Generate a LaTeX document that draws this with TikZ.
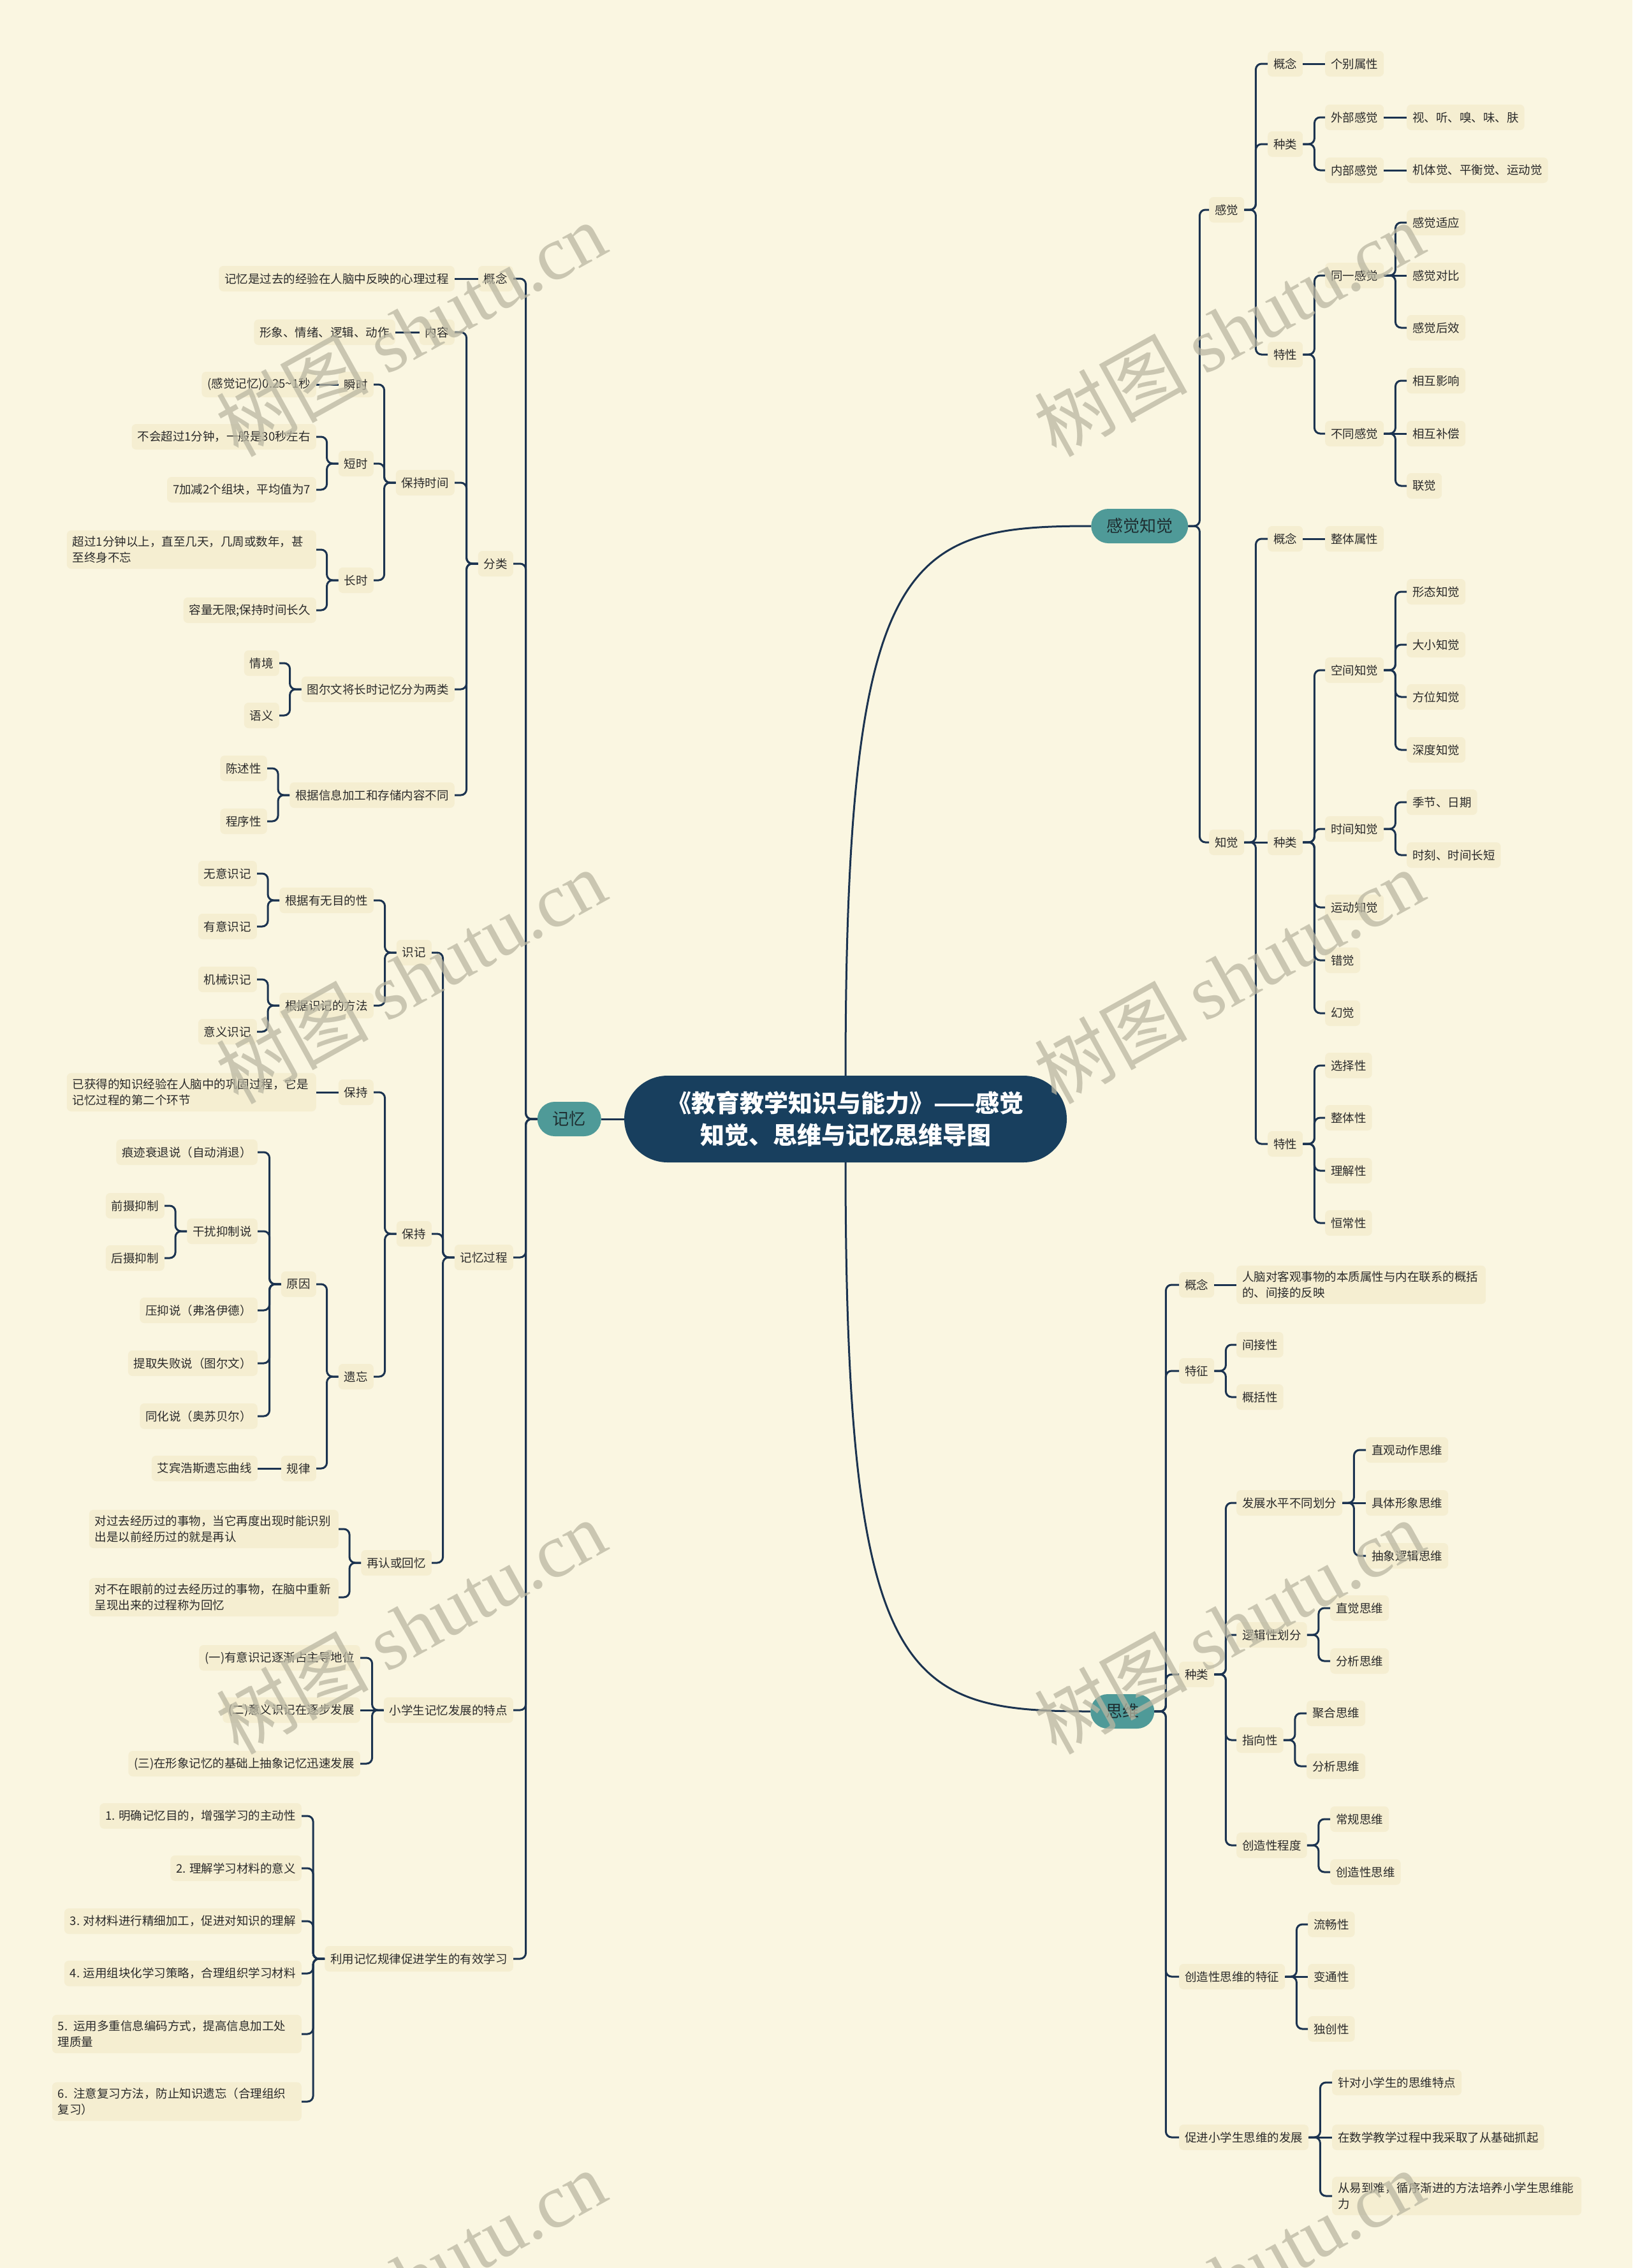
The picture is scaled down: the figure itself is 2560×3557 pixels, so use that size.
\documentclass[tikz,border=0pt]{standalone}
\usepackage{fontspec}
\newfontfamily\cjk{Noto Sans CJK SC}
\newfontfamily\wmserif{Liberation Serif}
\definecolor{bg}{HTML}{FAF6E1}
\definecolor{ndfill}{HTML}{F5EED1}
\definecolor{linec}{HTML}{1B3350}
\definecolor{rootc}{HTML}{183F5E}
\definecolor{tealc}{HTML}{4F9A98}
\definecolor{txt}{HTML}{2A2A2A}
\definecolor{pilltxt}{HTML}{1E2D30}
\definecolor{wm}{HTML}{BAB7A2}
\newcommand\edgeR[2]{\draw[conn] (#1.east) -- ++(18,0) |- (#2.west);}
\newcommand\edgeL[2]{\draw[conn] (#1.west) -- ++(-18,0) |- (#2.east);}
\newcommand\edgeSR[2]{\draw[conn] (#1.east) -- (#2.west);}
\newcommand\edgeSL[2]{\draw[conn] (#1.west) -- (#2.east);}
\begin{document}
\begin{tikzpicture}[x=1pt,y=-1pt,
  nd/.style={fill=ndfill, rounded corners=7pt, inner xsep=9pt, inner ysep=9pt, minimum height=40pt, font=\cjk\fontsize{18.5}{25}\selectfont, text=txt, align=left},
  ndw/.style={nd, anchor=west},
  nde/.style={nd, anchor=east},
  wrap/.style={text width=373pt},
  pill/.style={fill=tealc, rounded corners=27pt, minimum height=54pt, inner xsep=24pt, font=\cjk\fontsize{26}{30}\selectfont, text=pilltxt},
  rootst/.style={fill=rootc, text=white, rounded corners=68pt, minimum width=694pt, minimum height=136pt, align=center, font=\cjk\bfseries\fontsize{38}{50}\selectfont},
  conn/.style={draw=linec, line width=3pt, rounded corners=9pt},
  conn0/.style={draw=linec, line width=3pt},
  wmst/.style={font=\fontsize{120}{120}\selectfont, text=wm, text opacity=0.75, inner sep=0pt}
]
\useasboundingbox (0,0) rectangle (2560,3557);
\fill[bg] (0,0) rectangle (2560,3557);

% root
\node[rootst] (r) at (1326,1755) {《教育教学知识与能力》——感觉\\知觉、思维与记忆思维导图};

% ===== 感觉知觉 =====
\node[pill, anchor=west] (g) at (1711,825) {感觉知觉};
\node[ndw] (g1) at (1896,329) {感觉};
\node[ndw] (g2) at (1896,1321) {知觉};
\node[ndw] (g1a) at (1988,100) {概念};
\node[ndw] (g1b) at (1988,226) {种类};
\node[ndw] (g1c) at (1988,556) {特性};
\node[ndw] (g1a1) at (2078,100) {个别属性};
\node[ndw] (g1b1) at (2078,184) {外部感觉};
\node[ndw] (g1b2) at (2078,267) {内部感觉};
\node[ndw] (g1c1) at (2078,432) {同一感觉};
\node[ndw] (g1c2) at (2078,680) {不同感觉};
\node[ndw] (g1b1a) at (2206,184) {视、听、嗅、味、肤};
\node[ndw] (g1b2a) at (2206,267) {机体觉、平衡觉、运动觉};
\node[ndw] (g1c1a) at (2206,349) {感觉适应};
\node[ndw] (g1c1b) at (2206,432) {感觉对比};
\node[ndw] (g1c1c) at (2206,514) {感觉后效};
\node[ndw] (g1c2a) at (2206,597) {相互影响};
\node[ndw] (g1c2b) at (2206,680) {相互补偿};
\node[ndw] (g1c2c) at (2206,762) {联觉};

\node[ndw] (g2a) at (1988,845) {概念};
\node[ndw] (g2b) at (1988,1321) {种类};
\node[ndw] (g2c) at (1988,1794) {特性};
\node[ndw] (g2a1) at (2078,845) {整体属性};
\node[ndw] (g2b1) at (2078,1051) {空间知觉};
\node[ndw] (g2b2) at (2078,1300) {时间知觉};
\node[ndw] (g2b3) at (2078,1423) {运动知觉};
\node[ndw] (g2b4) at (2078,1506) {错觉};
\node[ndw] (g2b5) at (2078,1589) {幻觉};
\node[ndw] (g2c1) at (2078,1671) {选择性};
\node[ndw] (g2c2) at (2078,1753) {整体性};
\node[ndw] (g2c3) at (2078,1836) {理解性};
\node[ndw] (g2c4) at (2078,1918) {恒常性};
\node[ndw] (g2b1a) at (2206,928) {形态知觉};
\node[ndw] (g2b1b) at (2206,1011) {大小知觉};
\node[ndw] (g2b1c) at (2206,1093) {方位知觉};
\node[ndw] (g2b1d) at (2206,1176) {深度知觉};
\node[ndw] (g2b2a) at (2206,1258) {季节、日期};
\node[ndw] (g2b2b) at (2206,1341) {时刻、时间长短};

% ===== 思维 =====
\node[pill, anchor=west] (s) at (1710,2684) {思维};
\node[ndw] (s1) at (1849,2015) {概念};
\node[ndw] (s2) at (1849,2150) {特征};
\node[ndw] (s3) at (1849,2626) {种类};
\node[ndw] (s4) at (1849,3100) {创造性思维的特征};
\node[ndw] (s5) at (1849,3352) {促进小学生思维的发展};
\node[ndw, wrap] (s1a) at (1939,2015) {人脑对客观事物的本质属性与内在联系的概括\\的、间接的反映};
\node[ndw] (s2a) at (1939,2109) {间接性};
\node[ndw] (s2b) at (1939,2191) {概括性};
\node[ndw] (s3a) at (1939,2357) {发展水平不同划分};
\node[ndw] (s3b) at (1939,2564) {逻辑性划分};
\node[ndw] (s3c) at (1939,2729) {指向性};
\node[ndw] (s3d) at (1939,2894) {创造性程度};
\node[ndw] (s3a1) at (2142,2274) {直观动作思维};
\node[ndw] (s3a2) at (2142,2357) {具体形象思维};
\node[ndw] (s3a3) at (2142,2440) {抽象逻辑思维};
\node[ndw] (s3b1) at (2086,2522) {直觉思维};
\node[ndw] (s3b2) at (2086,2605) {分析思维};
\node[ndw] (s3c1) at (2049,2687) {聚合思维};
\node[ndw] (s3c2) at (2049,2770) {分析思维};
\node[ndw] (s3d1) at (2086,2853) {常规思维};
\node[ndw] (s3d2) at (2086,2936) {创造性思维};
\node[ndw] (s4a) at (2051,3018) {流畅性};
\node[ndw] (s4b) at (2051,3100) {变通性};
\node[ndw] (s4c) at (2051,3182) {独创性};
\node[ndw] (s5a) at (2089,3266) {针对小学生的思维特点};
\node[ndw] (s5b) at (2089,3352) {在数学教学过程中我采取了从基础抓起};
\node[ndw, wrap] (s5c) at (2089,3444) {从易到难，循序渐进的方法培养小学生思维能\\力};

% ===== 记忆 =====
\node[pill, anchor=east] (m) at (943,1755) {记忆};
\node[nde] (m1) at (805,437) {概念};
\node[nde] (m2) at (805,884) {分类};
\node[nde] (m3) at (805,1972) {记忆过程};
\node[nde] (m4) at (805,2682) {小学生记忆发展的特点};
\node[nde] (m5) at (805,3072) {利用记忆规律促进学生的有效学习};
\node[nde] (m1a) at (713,437) {记忆是过去的经验在人脑中反映的心理过程};
\node[nde] (m2a) at (713,521) {内容};
\node[nde] (m2b) at (713,757) {保持时间};
\node[nde] (m2c) at (713,1081) {图尔文将长时记忆分为两类};
\node[nde] (m2d) at (713,1247) {根据信息加工和存储内容不同};
\node[nde] (m2a1) at (620,521) {形象、情绪、逻辑、动作};
\node[nde] (m2b1) at (586,603) {瞬时};
\node[nde] (m2b2) at (586,727) {短时};
\node[nde] (m2b3) at (586,910) {长时};
\node[nde] (m2b1a) at (496,603) {(感觉记忆)0.25\textasciitilde1秒};
\node[nde] (m2b2a) at (496,685) {不会超过1分钟，一般是30秒左右};
\node[nde] (m2b2b) at (496,768) {7加减2个组块，平均值为7};
\node[nde, wrap] (m2b3a) at (496,862) {超过1分钟以上，直至几天，几周或数年，甚\\至终身不忘};
\node[nde] (m2b3b) at (496,957) {容量无限;保持时间长久};
\node[nde] (m2c1) at (438,1040) {情境};
\node[nde] (m2c2) at (438,1122) {语义};
\node[nde] (m2d1) at (419,1205) {陈述性};
\node[nde] (m2d2) at (419,1288) {程序性};

\node[nde] (m3a) at (677,1494) {识记};
\node[nde] (m3b) at (677,1935) {保持};
\node[nde] (m3c) at (677,2451) {再认或回忆};
\node[nde] (m3a1) at (586,1412) {根据有无目的性};
\node[nde] (m3a2) at (586,1577) {根据识记的方法};
\node[nde] (m3a1a) at (403,1370) {无意识记};
\node[nde] (m3a1b) at (403,1453) {有意识记};
\node[nde] (m3a2a) at (403,1536) {机械识记};
\node[nde] (m3a2b) at (403,1618) {意义识记};
\node[nde] (m3b1) at (586,1713) {保持};
\node[nde] (m3b2) at (586,2159) {遗忘};
\node[nde, wrap] (m3b1a) at (496,1713) {已获得的知识经验在人脑中的巩固过程，它是\\记忆过程的第二个环节};
\node[nde] (m3b2a) at (496,2014) {原因};
\node[nde] (m3b2b) at (496,2303) {规律};
\node[nde] (m3b2a1) at (404,1807) {痕迹衰退说（自动消退）};
\node[nde] (m3b2a2) at (404,1931) {干扰抑制说};
\node[nde] (m3b2a3) at (404,2055) {压抑说（弗洛伊德）};
\node[nde] (m3b2a4) at (404,2138) {提取失败说（图尔文）};
\node[nde] (m3b2a5) at (404,2221) {同化说（奥苏贝尔）};
\node[nde] (m3b2a2a) at (258,1891) {前摄抑制};
\node[nde] (m3b2a2b) at (258,1973) {后摄抑制};
\node[nde] (m3b2b1) at (404,2303) {艾宾浩斯遗忘曲线};
\node[nde, wrap] (m3c1) at (531,2398) {对过去经历过的事物，当它再度出现时能识别\\出是以前经历过的就是再认};
\node[nde, wrap] (m3c2) at (531,2505) {对不在眼前的过去经历过的事物，在脑中重新\\呈现出来的过程称为回忆};

\node[nde] (m4a) at (565,2600) {(一)有意识记逐渐占主导地位};
\node[nde] (m4b) at (565,2682) {(二)意义识记在逐步发展};
\node[nde] (m4c) at (565,2766) {(三)在形象记忆的基础上抽象记忆迅速发展};

\node[nde] (m5a) at (473,2848) {1. 明确记忆目的，增强学习的主动性};
\node[nde] (m5b) at (473,2930) {2. 理解学习材料的意义};
\node[nde] (m5c) at (473,3013) {3. 对材料进行精细加工，促进对知识的理解};
\node[nde] (m5d) at (473,3095) {4. 运用组块化学习策略，合理组织学习材料};
\node[nde, wrap] (m5e) at (473,3190) {5. 运用多重信息编码方式，提高信息加工处\\理质量};
\node[nde, wrap] (m5f) at (473,3296) {6. 注意复习方法，防止知识遗忘（合理组织\\复习）};

% ===== connectors =====
\draw[conn0] (r.north) .. controls +(0,-820) and +(-290,0) .. (g.west);
\draw[conn0] (r.south) .. controls +(0,820) and +(-290,0) .. (s.west);
\draw[conn0] (m.east) -- (r.west);

\foreach \c in {g1,g2} {\edgeR{g}{\c}}
\foreach \c in {g1a,g1b,g1c} {\edgeR{g1}{\c}}
\edgeSR{g1a}{g1a1}
\foreach \c in {g1b1,g1b2} {\edgeR{g1b}{\c}}
\edgeSR{g1b1}{g1b1a}
\edgeSR{g1b2}{g1b2a}
\foreach \c in {g1c1,g1c2} {\edgeR{g1c}{\c}}
\foreach \c in {g1c1a,g1c1c} {\edgeR{g1c1}{\c}}
\edgeSR{g1c1}{g1c1b}
\foreach \c in {g1c2a,g1c2c} {\edgeR{g1c2}{\c}}
\edgeSR{g1c2}{g1c2b}
\foreach \c in {g2a,g2c} {\edgeR{g2}{\c}}
\edgeSR{g2}{g2b}
\edgeSR{g2a}{g2a1}
\foreach \c in {g2b1,g2b2,g2b3,g2b4,g2b5} {\edgeR{g2b}{\c}}
\foreach \c in {g2b1a,g2b1b,g2b1c,g2b1d} {\edgeR{g2b1}{\c}}
\foreach \c in {g2b2a,g2b2b} {\edgeR{g2b2}{\c}}
\foreach \c in {g2c1,g2c2,g2c3,g2c4} {\edgeR{g2c}{\c}}

\foreach \c in {s1,s2,s3,s4,s5} {\edgeR{s}{\c}}
\edgeSR{s1}{s1a}
\foreach \c in {s2a,s2b} {\edgeR{s2}{\c}}
\foreach \c in {s3a,s3b,s3c,s3d} {\edgeR{s3}{\c}}
\foreach \c in {s3a1,s3a3} {\edgeR{s3a}{\c}}
\edgeSR{s3a}{s3a2}
\foreach \c in {s3b1,s3b2} {\edgeR{s3b}{\c}}
\foreach \c in {s3c1,s3c2} {\edgeR{s3c}{\c}}
\foreach \c in {s3d1,s3d2} {\edgeR{s3d}{\c}}
\foreach \c in {s4a,s4c} {\edgeR{s4}{\c}}
\edgeSR{s4}{s4b}
\foreach \c in {s5a,s5c} {\edgeR{s5}{\c}}
\edgeSR{s5}{s5b}

\foreach \c in {m1,m2,m3,m4,m5} {\edgeL{m}{\c}}
\edgeSL{m1}{m1a}
\foreach \c in {m2a,m2b,m2c,m2d} {\edgeL{m2}{\c}}
\edgeSL{m2a}{m2a1}
\foreach \c in {m2b1,m2b2,m2b3} {\edgeL{m2b}{\c}}
\edgeSL{m2b1}{m2b1a}
\foreach \c in {m2b2a,m2b2b} {\edgeL{m2b2}{\c}}
\foreach \c in {m2b3a,m2b3b} {\edgeL{m2b3}{\c}}
\foreach \c in {m2c1,m2c2} {\edgeL{m2c}{\c}}
\foreach \c in {m2d1,m2d2} {\edgeL{m2d}{\c}}
\foreach \c in {m3a,m3b,m3c} {\edgeL{m3}{\c}}
\foreach \c in {m3a1,m3a2} {\edgeL{m3a}{\c}}
\foreach \c in {m3a1a,m3a1b} {\edgeL{m3a1}{\c}}
\foreach \c in {m3a2a,m3a2b} {\edgeL{m3a2}{\c}}
\foreach \c in {m3b1,m3b2} {\edgeL{m3b}{\c}}
\edgeSL{m3b1}{m3b1a}
\foreach \c in {m3b2a,m3b2b} {\edgeL{m3b2}{\c}}
\foreach \c in {m3b2a1,m3b2a2,m3b2a3,m3b2a4,m3b2a5} {\edgeL{m3b2a}{\c}}
\foreach \c in {m3b2a2a,m3b2a2b} {\edgeL{m3b2a2}{\c}}
\edgeSL{m3b2b}{m3b2b1}
\foreach \c in {m3c1,m3c2} {\edgeL{m3c}{\c}}
\foreach \c in {m4a,m4c} {\edgeL{m4}{\c}}
\edgeSL{m4}{m4b}
\foreach \c in {m5a,m5b,m5c,m5d,m5e,m5f} {\edgeL{m5}{\c}}

% ===== watermarks =====
\begin{scope}
\clip (0,0) rectangle (2560,3557);
\foreach \wx/\wy/\wn in {644/516/wa,1927/516/wb,644/1531/wc,1927/1531/wd,644/2551/we,1927/2551/wf,644/3571/wg,1927/3571/wh}
  {\node[wmst, rotate=29] (\wn) at (\wx,\wy) {\cjk 树图 \wmserif shutu.cn};}
\end{scope}
\end{tikzpicture}
\end{document}
